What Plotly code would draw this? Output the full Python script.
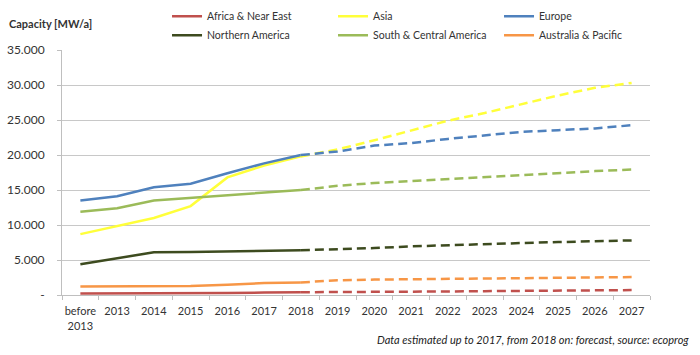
import plotly.graph_objects as go

categories = ["before<br>2013", "2013", "2014", "2015", "2016", "2017", "2018", "2019",
              "2020", "2021", "2022", "2023", "2024", "2025", "2026", "2027"]

africa = [200, 200, 250, 250, 300, 350, 400, 400, 450, 450, 500, 550, 600, 650, 700, 700]
asia = [8700, 9800, 11000, 12700, 16800, 18500, 19800, 20800, 22100, 23500, 24900, 26000, 27300, 28500, 29600, 30300]
europe = [13500, 14100, 15400, 15900, 17400, 18800, 20000, 20500, 21350, 21700, 22300, 22800, 23300, 23550, 23800, 24250]
n_america = [4400, 5300, 6100, 6150, 6200, 6300, 6400, 6500, 6700, 6950, 7130, 7320, 7420, 7560, 7700, 7800]
sc_america = [11900, 12400, 13500, 13900, 14200, 14600, 15000, 15600, 16000, 16300, 16600, 16870, 17200, 17450, 17700, 17920]
australia = [1200, 1200, 1300, 1300, 1450, 1700, 1800, 2100, 2200, 2250, 2300, 2350, 2400, 2450, 2500, 2560]

series_names = ["Africa & Near East", "Asia", "Europe", "Northern America",
                "South & Central America", "Australia & Pacific"]
series_values = [africa, asia, europe, n_america, sc_america, australia]
series_colors = ["#C0504D", "#FFFF3A", "#4F81BD", "#3D4B1F", "#9BBB59", "#F79646"]

split = 6  # index of 2018: solid up to here, dashed afterwards

y_tickvals = [0, 5000, 10000, 15000, 20000, 25000, 30000, 35000]
y_ticktext = ["-", "5.000", "10.000", "15.000", "20.000", "25.000", "30.000", "35.000"]

fig = go.Figure()
for name, vals, col in zip(series_names, series_values, series_colors):
    fig.add_trace(go.Scatter(x=categories[:split + 1], y=vals[:split + 1], mode="lines",
                             name=name, line=dict(color=col, width=2.5), showlegend=True))
for name, vals, col in zip(series_names, series_values, series_colors):
    fig.add_trace(go.Scatter(x=categories[split:], y=vals[split:], mode="lines",
                             name=name, line=dict(color=col, width=2.5, dash="9px,5px"),
                             showlegend=False))

font_family = "Lato, 'Open Sans', sans-serif"
fig.update_layout(
    width=700, height=355,
    margin=dict(l=62, r=50, t=50, b=60, autoexpand=False),
    paper_bgcolor="white", plot_bgcolor="white",
    font=dict(family=font_family, size=12, color="#333333"),
    legend=dict(orientation="h", xref="container", yref="container",
                x=0.2386, y=0.995, xanchor="left", yanchor="top",
                entrywidth=121, entrywidthmode="pixels", tracegroupgap=0,
                font=dict(size=10.5, color="#333333"), bgcolor="rgba(0,0,0,0)"),
    xaxis=dict(type="category", categoryorder="array", categoryarray=categories,
               showgrid=False, showline=True, linecolor="#BFBFBF", linewidth=1,
               ticks="outside", tickson="boundaries", ticklen=4, tickcolor="#BFBFBF",
               ticklabelstandoff=6,
               tickangle=0, tickfont=dict(size=11, color="#333333"), range=[-0.5, 15.5]),
    yaxis=dict(range=[0, 35000], tickvals=y_tickvals, ticktext=y_ticktext,
               showgrid=True, gridcolor="#C8C8C8", gridwidth=1,
               showline=True, linecolor="#BFBFBF", linewidth=1,
               ticks="outside", ticklen=4, tickcolor="#BFBFBF", ticklabelstandoff=10,
               tickfont=dict(size=12, color="#333333"), zeroline=False),
    annotations=[
        dict(text="<b>Capacity [MW/a]</b>", xref="paper", yref="paper",
             x=-0.093, y=1.11, xanchor="left", yanchor="middle", showarrow=False,
             font=dict(size=11, color="#333333")),
        dict(text="<i>Data estimated up to 2017, from 2018 on: forecast, source: ecoprog</i>",
             xref="paper", yref="paper", x=0.532, y=-0.183, xanchor="left", yanchor="middle",
             showarrow=False, font=dict(size=11, color="#222222")),
    ],
)

fig.write_html("out.html", config={"displayModeBar": False},
               post_script="document.body.style.margin='0';")
